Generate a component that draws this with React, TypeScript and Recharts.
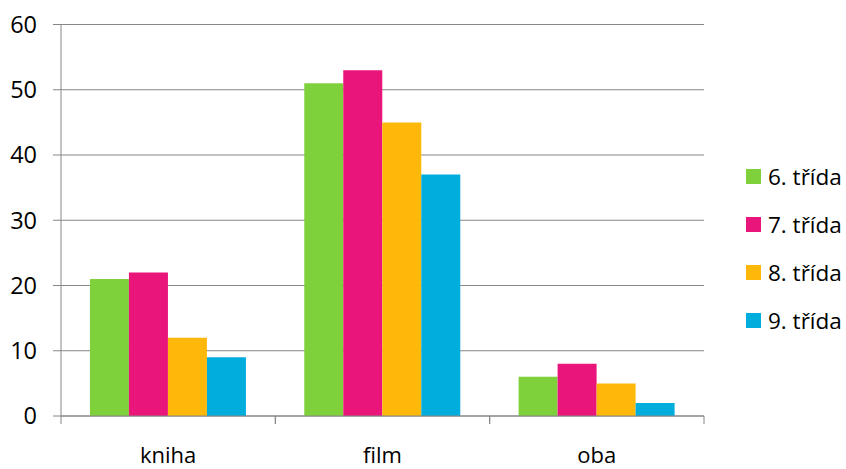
import { BarChart, Bar, XAxis, YAxis, CartesianGrid, Legend } from 'recharts'

const categories = ['kniha', 'film', 'oba']
const seriesNames = ['6. třída', '7. třída', '8. třída', '9. třída']
const grade6 = [21, 51, 6]
const grade7 = [22, 53, 8]
const grade8 = [12, 45, 5]
const grade9 = [9, 37, 2]
const yTicks = [0, 10, 20, 30, 40, 50, 60]

const colors = ['#7FD13B', '#EA157A', '#FEB80A', '#00ADDC']
const seriesValues = [grade6, grade7, grade8, grade9]
const keys = ['g6', 'g7', 'g8', 'g9']

const data = categories.map((name, i) => {
  const row: Record<string, string | number> = { name }
  keys.forEach((k, s) => {
    row[k] = seriesValues[s][i]
  })
  return row
})

const FONT = '"Open Sans", sans-serif'
const AXIS = '#868686'
const X_TICK_SIZE = 8
const X_TICK_MARGIN = 0

// category label centred under the band, with tick marks at both band edges
function CategoryTick(props: any) {
  const { x, y, payload, width } = props
  const half = payload?.offset ?? width / categories.length / 2
  const axisY = y - X_TICK_SIZE - X_TICK_MARGIN
  return (
    <g>
      <line x1={x - half} x2={x - half} y1={axisY} y2={axisY + 8} stroke={AXIS} strokeWidth={1} />
      <line x1={x + half} x2={x + half} y1={axisY} y2={axisY + 8} stroke={AXIS} strokeWidth={1} />
      <text x={x} y={axisY + 47} textAnchor="middle" fontFamily={FONT} fontSize={22} fill="#000">
        {payload.value}
      </text>
    </g>
  )
}

function LegendList(props: any) {
  const items = props.payload || []
  return (
    <div style={{ fontFamily: FONT, fontSize: 22.5, color: '#000' }}>
      {items.map((item: any) => (
        <div key={item.value} style={{ display: 'flex', alignItems: 'center', height: 48 }}>
          <span style={{ width: 15, height: 15, background: item.color, marginRight: 7, display: 'inline-block' }} />
          <span>{item.value}</span>
        </div>
      ))}
    </div>
  )
}

export default function App() {
  return (
    <div style={{ position: 'absolute', left: 0, top: 0, width: 846, height: 469, background: '#fff' }}>
      <BarChart
        width={846}
        height={469}
        data={data}
        margin={{ top: 24.5, right: 142, bottom: 0, left: 0 }}
        barCategoryGap="13.5%"
        barGap={0}
      >
        <CartesianGrid vertical={false} stroke={AXIS} strokeWidth={1} />
        <XAxis
          dataKey="name"
          height={53}
          axisLine={{ stroke: AXIS, strokeWidth: 1 }}
          tickLine={false}
          tickSize={X_TICK_SIZE}
          tickMargin={X_TICK_MARGIN}
          tick={<CategoryTick />}
          interval={0}
        />
        <YAxis
          width={61}
          domain={[0, 60]}
          ticks={yTicks}
          interval={0}
          axisLine={{ stroke: AXIS, strokeWidth: 1 }}
          tickLine={{ stroke: AXIS, strokeWidth: 1 }}
          tickSize={8}
          tickMargin={16}
          tick={{ fontFamily: FONT, fontSize: 23.5, fill: '#000' }}
        />
        <Legend
          layout="horizontal"
          align="center"
          verticalAlign="middle"
          content={<LegendList />}
          wrapperStyle={{ left: 746, top: 152.5, width: 100 }}
        />
        {keys.map((k, s) => (
          <Bar key={k} dataKey={k} name={seriesNames[s]} fill={colors[s]} isAnimationActive={false} />
        ))}
      </BarChart>
    </div>
  )
}
